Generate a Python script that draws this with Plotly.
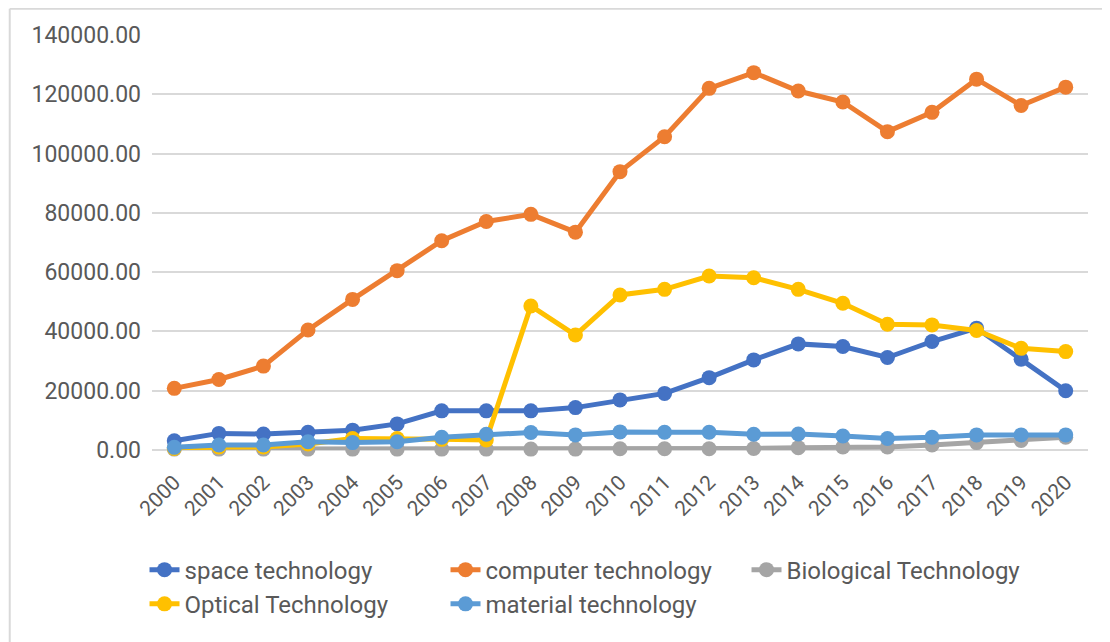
import plotly.graph_objects as go

years = [str(y) for y in range(2000, 2021)]

space = [3100, 5600, 5400, 6000, 6700, 8800, 13200, 13200, 13200, 14300, 16900,
         19100, 24400, 30400, 35800, 34900, 31200, 36600, 41100, 30600, 20000]
computer = [20800, 23800, 28300, 40500, 50800, 60500, 70600, 77100, 79500, 73500, 93900,
            105700, 122000, 127300, 121100, 117400, 107400, 113900, 125100, 116200, 122400]
biological = [300, 300, 300, 300, 300, 300, 300, 300, 300, 300, 400,
              400, 400, 500, 800, 1000, 1000, 1700, 2500, 3200, 4300]
optical = [500, 1000, 1000, 2000, 3900, 3900, 3600, 3400, 48600, 38800, 52300,
           54200, 58700, 58100, 54200, 49500, 42400, 42200, 40300, 34300, 33200]
material = [900, 1700, 1700, 2800, 2500, 2800, 4300, 5300, 5900, 5100, 6100,
            6000, 6000, 5300, 5400, 4700, 3900, 4300, 5100, 5100, 5100]

series = [
    ("space technology", space, "#4472C4"),
    ("computer technology", computer, "#ED7D31"),
    ("Biological Technology", biological, "#A5A5A5"),
    ("Optical Technology", optical, "#FFC000"),
    ("material technology", material, "#5B9BD5"),
]

FONT = "Roboto, sans-serif"

fig = go.Figure()
for name, vals, col in series:
    fig.add_trace(go.Scatter(
        x=years, y=vals, name=name, mode="lines+markers",
        line=dict(color=col, width=5),
        marker=dict(color=col, size=15),
        cliponaxis=False,
    ))

# page has an 8px body margin, so figure is a bit smaller than the window
fig.update_layout(
    width=1102, height=634,
    margin=dict(l=144, r=22, t=27, b=192),
    paper_bgcolor="white", plot_bgcolor="white",
    font=dict(family=FONT, size=22, color="#595959"),
    xaxis=dict(type="category", tickangle=-45, showgrid=False, showline=False,
               ticks="", tickfont=dict(size=21), range=[-0.5, 20.5],
               ticklabelstandoff=15),
    yaxis=dict(range=[0, 140000], dtick=20000, tickformat=".2f",
               showgrid=True, gridcolor="#D9D9D9", gridwidth=1.5,
               zeroline=True, zerolinecolor="#D9D9D9", zerolinewidth=1.5,
               tickfont=dict(size=23), ticks="", ticklabelstandoff=10),
    legend=dict(orientation="h", x=-0.008, y=-0.235, xanchor="left", yanchor="top",
                entrywidth=256, entrywidthmode="pixels",
                font=dict(size=24, color="#595959"), tracegroupgap=0),
    showlegend=True,
)

# chart frame (only left and top edges are visible in the original)
fig.add_shape(type="line", xref="paper", yref="paper",
              x0=-0.152, x1=-0.152, y0=1.063, y1=-0.6, line=dict(color="#D9D9D9", width=2))
fig.add_shape(type="line", xref="paper", yref="paper",
              x0=-0.152, x1=1.05, y0=1.063, y1=1.063, line=dict(color="#D9D9D9", width=2))

fig.write_html("out.html")
